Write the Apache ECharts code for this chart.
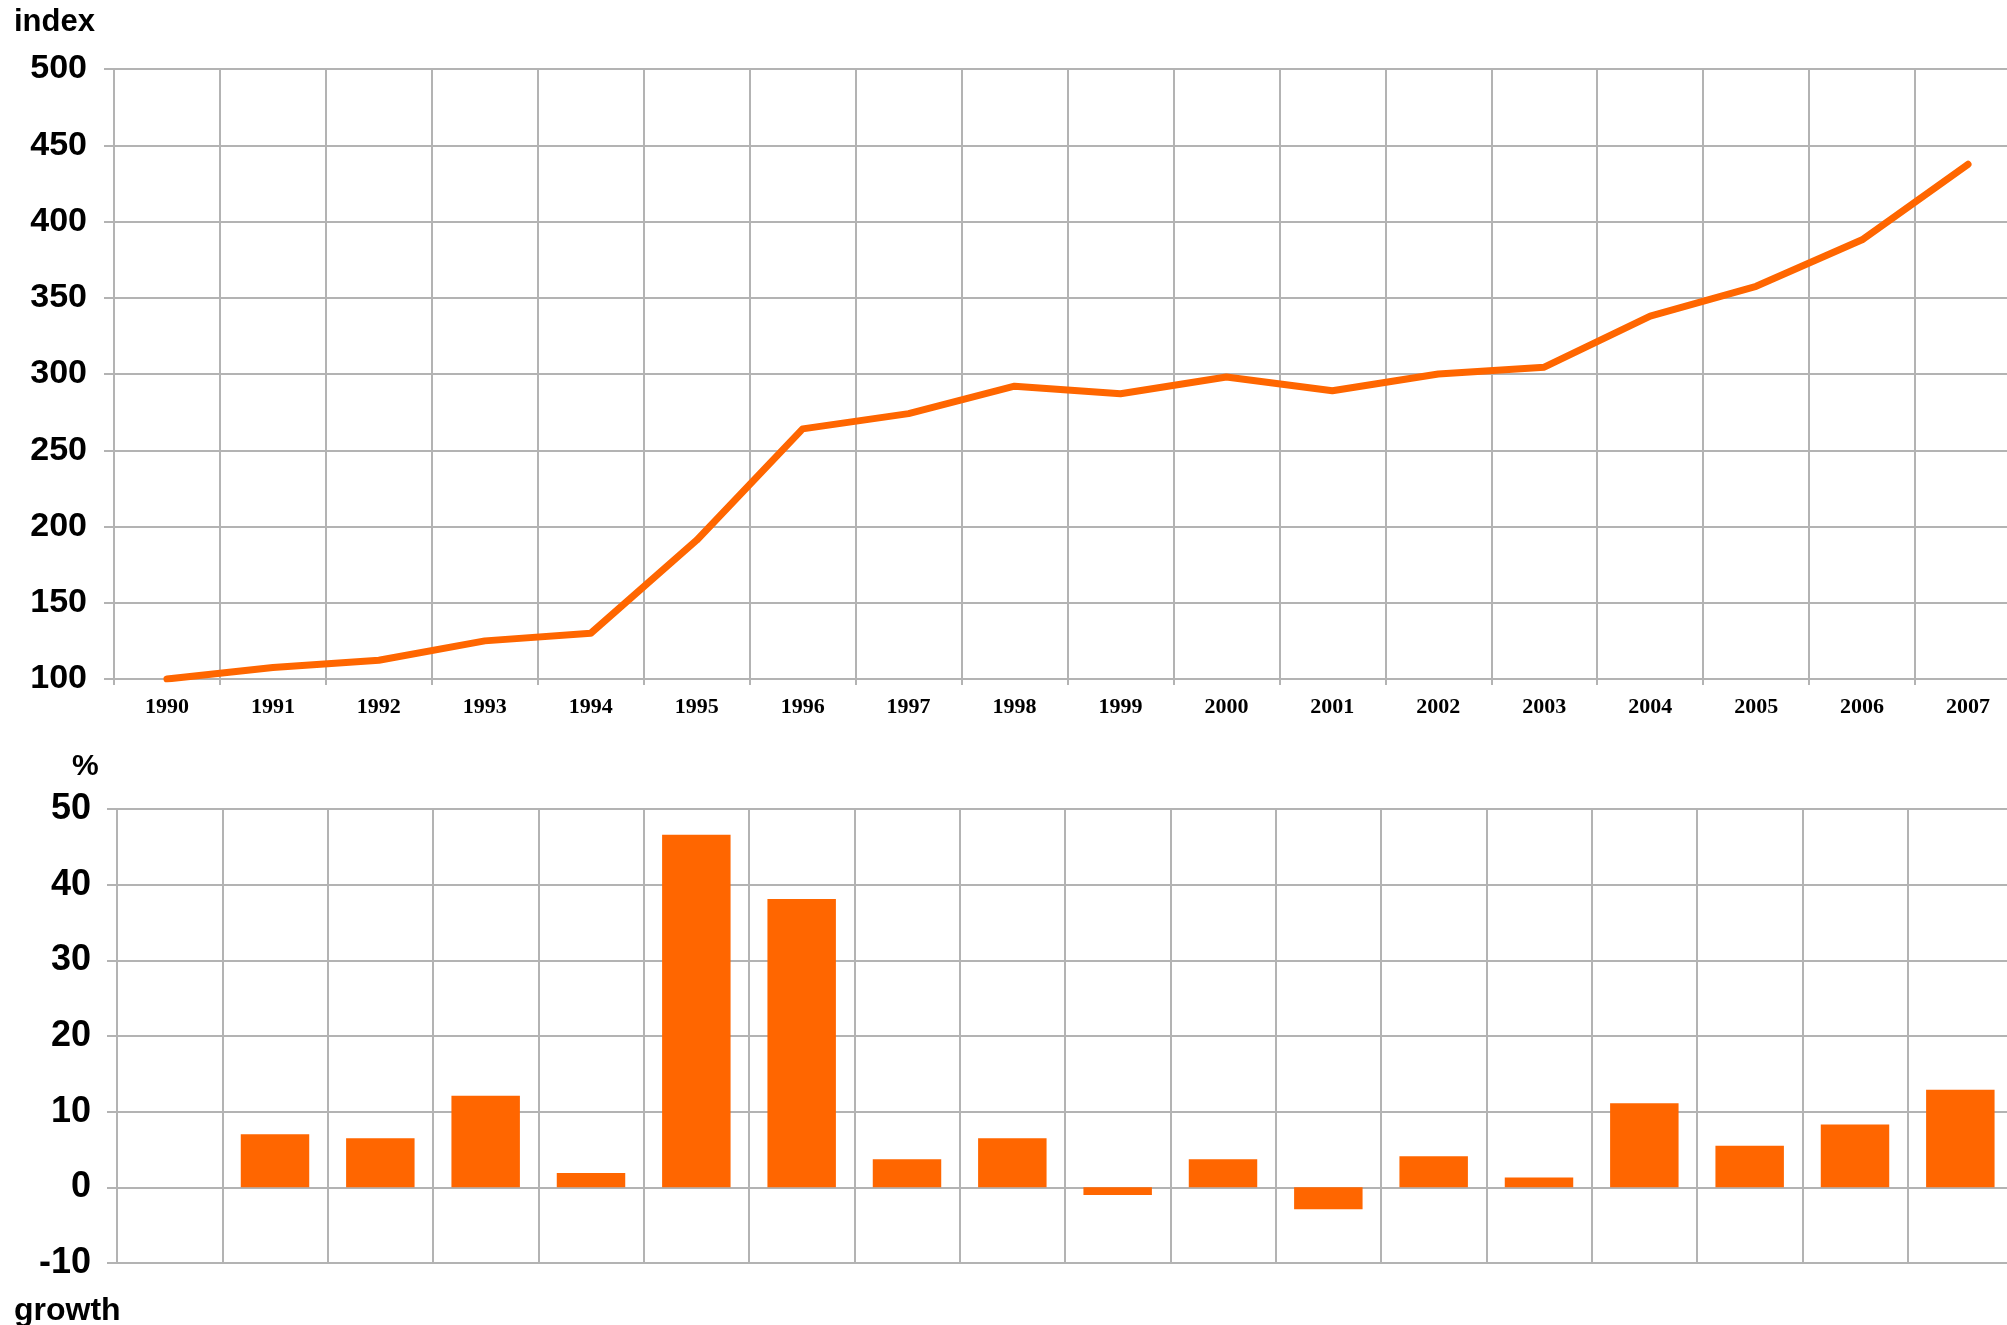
<!DOCTYPE html>
<html>
<head>
<meta charset="utf-8">
<script src="https://cdn.jsdelivr.net/npm/echarts@6/dist/echarts.min.js"></script>
<style>
  html, body { margin: 0; padding: 0; background: #fff; }
  #main { width: 2007px; height: 1325px; }
</style>
</head>
<body>
<div id="main"></div>
<script>
// 数据
var years = ['1990','1991','1992','1993','1994','1995','1996','1997','1998',
             '1999','2000','2001','2002','2003','2004','2005','2006','2007'];
var indexValues = [100, 107.5, 112.3, 125, 130, 191, 264, 274, 292,
                   287, 298, 289, 300, 304.5, 338, 357.5, 388, 437.5];
var growthValues = [null, 7.0, 6.5, 12.1, 1.9, 46.6, 38.1, 3.7, 6.5,
                    -1.0, 3.7, -2.9, 4.1, 1.3, 11.1, 5.5, 8.3, 12.9];

var orange = '#ff6600';
var gridGray = '#b3b3b3';
var sans = '"Liberation Sans", Arial, sans-serif';
var serif = '"Liberation Serif", "Times New Roman", serif';

var myChart = echarts.init(document.getElementById('main'));

var option = {
  backgroundColor: '#fff',
  animation: false,
  title: [
    { text: 'index', left: 14, top: 7, padding: 0,
      textStyle: { fontFamily: sans, fontSize: 31, fontWeight: 'bold', color: '#000' } },
    { text: '%', left: 72, top: 752, padding: 0,
      textStyle: { fontFamily: sans, fontSize: 30, fontWeight: 'bold', color: '#000' } },
    { text: 'growth', left: 14, top: 1295, padding: 0,
      textStyle: { fontFamily: sans, fontSize: 32, fontWeight: 'bold', color: '#000' } }
  ],
  grid: [
    { left: 114, top: 69, width: 1907, height: 610, outerBoundsMode: 'none', containLabel: false },
    { left: 117, top: 809, width: 1896, height: 454, outerBoundsMode: 'none', containLabel: false }
  ],
  xAxis: [
    {
      type: 'category',
      gridIndex: 0,
      data: years,
      boundaryGap: true,
      axisLine: { lineStyle: { color: gridGray, width: 2 } },
      axisTick: { show: true, length: 6, lineStyle: { color: gridGray, width: 2 } },
      axisLabel: { margin: 17, fontFamily: serif, fontSize: 22, fontWeight: 'bold', color: '#000' },
      splitLine: { show: true, lineStyle: { color: gridGray, width: 2 } }
    },
    {
      type: 'category',
      gridIndex: 1,
      data: years,
      boundaryGap: true,
      axisLine: { onZero: false, lineStyle: { color: gridGray, width: 2 } },
      axisTick: { show: false },
      axisLabel: { show: false },
      splitLine: { show: true, lineStyle: { color: gridGray, width: 2 } }
    }
  ],
  yAxis: [
    {
      type: 'value',
      gridIndex: 0,
      min: 100,
      max: 500,
      interval: 50,
      axisLine: { show: true, lineStyle: { color: gridGray, width: 2 } },
      axisTick: { show: true, length: 10, lineStyle: { color: gridGray, width: 2 } },
      axisLabel: { margin: 27, fontFamily: sans, fontSize: 34, fontWeight: 'bold', color: '#000' },
      splitLine: { show: true, lineStyle: { color: gridGray, width: 2 } }
    },
    {
      type: 'value',
      gridIndex: 1,
      min: -10,
      max: 50,
      interval: 10,
      axisLine: { show: true, lineStyle: { color: gridGray, width: 2 } },
      axisTick: { show: true, length: 10, lineStyle: { color: gridGray, width: 2 } },
      axisLabel: { margin: 26, fontFamily: sans, fontSize: 36, fontWeight: 'bold', color: '#000' },
      splitLine: { show: true, lineStyle: { color: gridGray, width: 2 } }
    }
  ],
  series: [
    {
      name: 'index',
      type: 'line',
      xAxisIndex: 0,
      yAxisIndex: 0,
      data: indexValues,
      symbol: 'none',
      lineStyle: { color: orange, width: 7, cap: 'round', join: 'round' },
      z: 5
    },
    {
      name: 'growth',
      type: 'bar',
      xAxisIndex: 1,
      yAxisIndex: 1,
      data: growthValues,
      barCategoryGap: '35%',
      itemStyle: { color: orange },
      z: 5
    }
  ]
};

myChart.setOption(option);
</script>
</body>
</html>
